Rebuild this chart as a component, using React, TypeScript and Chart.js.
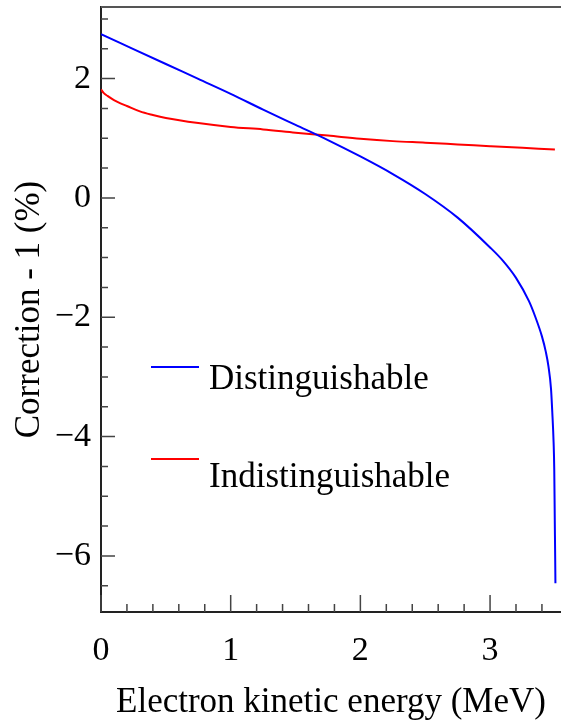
import React, { useEffect, useRef } from 'react';
import { Chart, registerables } from 'chart.js';

Chart.register(...registerables);

// ---- Data ----
const DIST_E = [0, 0.25, 0.5, 0.75, 1.0, 1.25, 1.5, 1.75, 2.0, 2.25, 2.5, 2.75, 3.0, 3.1, 3.2, 3.3, 3.35, 3.4, 3.43, 3.45, 3.47, 3.48, 3.49, 3.495, 3.499, 3.502, 3.504];
const DIST_V = [2.745, 2.495, 2.245, 1.995, 1.745, 1.48, 1.225, 0.97, 0.695, 0.4, 0.066, -0.33, -0.83, -1.055, -1.34, -1.73, -2.0, -2.32, -2.58, -2.82, -3.2, -3.6, -4.1, -4.55, -5.4, -6.0, -6.46];

const INDIST_E = [0, 0.02, 0.05, 0.1, 0.15, 0.2, 0.3, 0.4, 0.5, 0.75, 1.0, 1.25, 1.5, 1.75, 2.0, 2.25, 2.5, 2.75, 3.0, 3.25, 3.5];
const INDIST_V = [1.82, 1.76, 1.71, 1.64, 1.585, 1.54, 1.45, 1.39, 1.34, 1.255, 1.19, 1.148, 1.094, 1.045, 0.992, 0.952, 0.926, 0.897, 0.868, 0.839, 0.81];

const SERIES_LABELS = ['Distinguishable', 'Indistinguishable'];
const X_TITLE = 'Electron kinetic energy (MeV)';
const Y_TITLE = 'Correction - 1 (%)';

const X_MAJOR = [0, 1, 2, 3];
const X_MINOR = [0.2, 0.4, 0.6, 0.8, 1.2, 1.4, 1.6, 1.8, 2.2, 2.4, 2.6, 2.8, 3.2, 3.4];
const Y_MAJOR = [-6, -4, -2, 0, 2];
const Y_MINOR = [-6.5, -5.5, -5, -4.5, -3.5, -3, -2.5, -1.5, -1, -0.5, 0.5, 1, 1.5, 2.5, 3];

const X_RANGE = [0, 3.547];
const Y_RANGE = [-6.94, 3.2];

const COLORS = ['#0000ff', '#ff0000'];
const FONT = "'Liberation Serif', 'DejaVu Serif', serif";

const fmt = (v: number) => (v < 0 ? '\u2212' + Math.abs(v) : String(v));

const framePlugin = {
  id: 'frameTicksLegend',
  afterDatasetsDraw(chart: any) {
    const { ctx, chartArea, scales } = chart;
    const xs = scales.x;
    const ys = scales.y;
    const { left, right, top, bottom } = chartArea;
    ctx.save();
    // top frame line
    ctx.strokeStyle = '#555';
    ctx.lineWidth = 2;
    ctx.beginPath();
    ctx.moveTo(left, top);
    ctx.lineTo(right, top);
    ctx.stroke();

    // inward ticks
    ctx.strokeStyle = '#444';
    ctx.lineWidth = 1.5;
    ctx.beginPath();
    Y_MAJOR.forEach((v) => {
      const y = ys.getPixelForValue(v);
      ctx.moveTo(left, y);
      ctx.lineTo(left + 14, y);
    });
    Y_MINOR.forEach((v) => {
      const y = ys.getPixelForValue(v);
      ctx.moveTo(left, y);
      ctx.lineTo(left + 7, y);
    });
    X_MAJOR.forEach((v) => {
      const x = xs.getPixelForValue(v);
      ctx.moveTo(x, bottom);
      ctx.lineTo(x, bottom - 17);
    });
    X_MINOR.forEach((v) => {
      const x = xs.getPixelForValue(v);
      ctx.moveTo(x, bottom);
      ctx.lineTo(x, bottom - 8);
    });
    ctx.stroke();

    // legend
    const rows = [
      { lineY: top + 360, textY: top + 382 },
      { lineY: top + 452, textY: top + 480 },
    ];
    rows.forEach((r, i) => {
      ctx.strokeStyle = COLORS[i];
      ctx.lineWidth = 2;
      ctx.beginPath();
      ctx.moveTo(left + 50, r.lineY);
      ctx.lineTo(left + 98, r.lineY);
      ctx.stroke();
      ctx.fillStyle = '#000';
      ctx.font = `35px ${FONT}`;
      ctx.textAlign = 'left';
      ctx.textBaseline = 'alphabetic';
      ctx.fillText(SERIES_LABELS[i], left + 108, r.textY);
    });
    ctx.restore();
  },
};

export default function App() {
  const ref = useRef<HTMLCanvasElement | null>(null);

  useEffect(() => {
    if (!ref.current) return;
    const chart = new Chart(ref.current, {
      type: 'line',
      data: {
        datasets: [
          {
            label: SERIES_LABELS[0],
            data: DIST_E.map((e, i) => ({ x: e, y: DIST_V[i] })),
            borderColor: COLORS[0],
            borderWidth: 2,
            pointRadius: 0,
            cubicInterpolationMode: 'monotone',
            fill: false,
          },
          {
            label: SERIES_LABELS[1],
            data: INDIST_E.map((e, i) => ({ x: e, y: INDIST_V[i] })),
            borderColor: COLORS[1],
            borderWidth: 2,
            pointRadius: 0,
            cubicInterpolationMode: 'monotone',
            fill: false,
          },
        ],
      },
      options: {
        animation: false,
        responsive: false,
        layout: { padding: { top: 7, left: 0, right: 0, bottom: 0 } },
        plugins: { legend: { display: false }, tooltip: { enabled: false } },
        scales: {
          x: {
            type: 'linear',
            min: X_RANGE[0],
            max: X_RANGE[1],
            grid: { display: false, drawTicks: false },
            border: { display: true, color: '#222', width: 2 },
            afterBuildTicks: (s: any) => {
              s.ticks = X_MAJOR.map((v) => ({ value: v }));
            },
            afterFit: (s: any) => {
              s.height = 111;
              s.paddingLeft = 0;
              s.paddingRight = 0;
              s.paddingTop = 0;
              s.paddingBottom = 0;
            },
            ticks: {
              autoSkip: false,
              maxRotation: 0,
              padding: 19,
              color: '#000',
              font: { family: FONT, size: 34 },
              callback: (v: any) => fmt(Number(v)),
            },
            title: {
              display: true,
              text: X_TITLE,
              color: '#000',
              font: { family: FONT, size: 35, lineHeight: 1 },
              padding: { top: 0, bottom: 2.5 },
            },
          },
          y: {
            type: 'linear',
            min: Y_RANGE[0],
            max: Y_RANGE[1],
            grid: { display: false, drawTicks: false },
            border: { display: true, color: '#222', width: 2 },
            afterBuildTicks: (s: any) => {
              s.ticks = Y_MAJOR.map((v) => ({ value: v }));
            },
            afterFit: (s: any) => {
              s.width = 101;
              s.paddingLeft = 0;
              s.paddingRight = 0;
              s.paddingTop = 0;
              s.paddingBottom = 0;
            },
            ticks: {
              autoSkip: false,
              padding: 10,
              color: '#000',
              font: { family: FONT, size: 34 },
              callback: (v: any) => fmt(Number(v)),
            },
            title: {
              display: true,
              text: Y_TITLE,
              color: '#000',
              font: { family: FONT, size: 35, lineHeight: 1 },
              padding: { top: 12, bottom: 0 },
            },
          },
        },
      },
      plugins: [framePlugin],
    });
    return () => chart.destroy();
  }, []);

  return (
    <div style={{ position: 'fixed', left: 0, top: 0, width: 561, height: 723, background: '#fff' }}>
      <canvas ref={ref} width={561} height={723} />
    </div>
  );
}
